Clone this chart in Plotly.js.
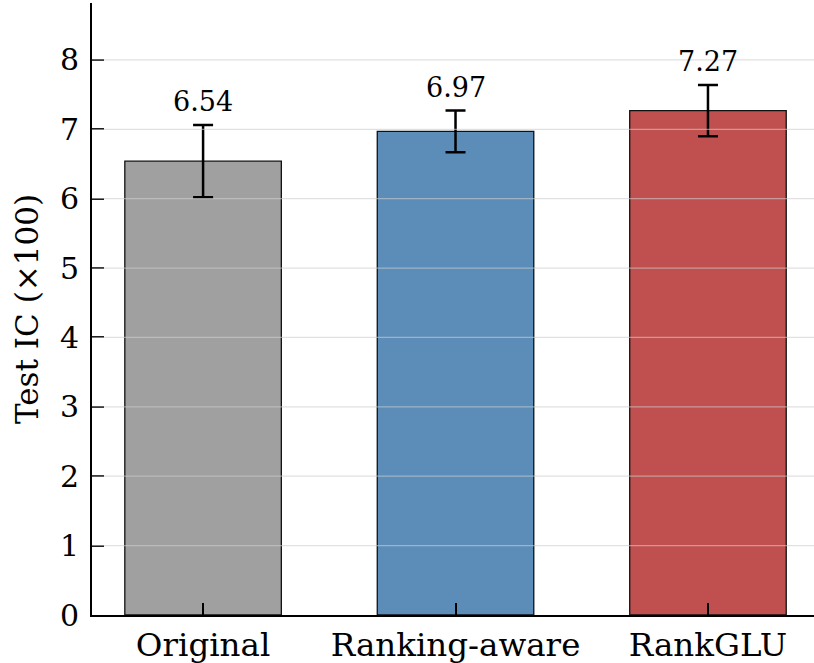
<!DOCTYPE html>
<html>
<head>
<meta charset="utf-8">
<script src="https://cdn.plot.ly/plotly-3.0.1.min.js"></script>
<style>html,body{margin:0;padding:0;background:#fff;}#chart{width:814px;height:663px;}</style>
</head>
<body>
<div id="chart"></div>
<script>
const categories = ["Original", "Ranking-aware", "RankGLU"];
const values = [6.54, 6.97, 7.27];
const errors = [0.52, 0.30, 0.37];
const valueLabels = ["6.54", "6.97", "7.27"];
const barColors = ["#a0a0a0", "#5b8db8", "#c0504f"];
const yTicks = [0, 1, 2, 3, 4, 5, 6, 7, 8];

const font = "DejaVu Serif, serif";

const trace = {
  type: "bar",
  x: categories,
  y: values,
  width: 0.62,
  marker: { color: barColors, line: { color: "#111", width: 1.3 } },
  error_y: { type: "data", array: errors, visible: true, color: "#000", thickness: 2.5, width: 10 },
  hoverinfo: "none"
};

const annotations = categories.map((c, i) => ({
  x: c, y: values[i] + errors[i], xref: "x", yref: "y",
  text: valueLabels[i], showarrow: false, yanchor: "bottom", yshift: 6,
  font: { family: font, size: 27, color: "#000" }
}));

const shapes = yTicks.filter(t => t > 0).map(t => ({
  type: "line", xref: "paper", x0: 0, x1: 1, yref: "y", y0: t, y1: t,
  layer: "above", line: { color: "rgba(205,205,205,0.6)", width: 1.2 }
}));

const layout = {
  width: 814, height: 663,
  margin: { l: 92, r: 0, t: 3, b: 48, pad: 0 },
  paper_bgcolor: "#fff", plot_bgcolor: "#fff",
  font: { family: font, color: "#000" },
  showlegend: false,
  bargap: 0,
  xaxis: {
    type: "category",
    range: [-0.44, 2.42],
    showline: true, linecolor: "#000", linewidth: 2,
    ticks: "inside", ticklen: 12, tickwidth: 2, tickcolor: "#000",
    showgrid: false, zeroline: false,
    tickfont: { family: font, size: 32.5, color: "#000" }
  },
  yaxis: {
    range: [0, 8.82],
    tickvals: yTicks,
    ticktext: yTicks.map(String),
    showline: true, linecolor: "#000", linewidth: 2,
    ticks: "inside", ticklen: 12, tickwidth: 2, tickcolor: "#000",
    ticklabelstandoff: 5,
    showgrid: false, zeroline: false,
    tickfont: { family: font, size: 30, color: "#000" },
    title: { text: "Test IC (×100)", font: { family: font, size: 31, color: "#000" }, standoff: 12 }
  },
  annotations: annotations,
  shapes: shapes
};

Plotly.newPlot("chart", [trace], layout, { displayModeBar: false, staticPlot: true });
</script>
</body>
</html>
